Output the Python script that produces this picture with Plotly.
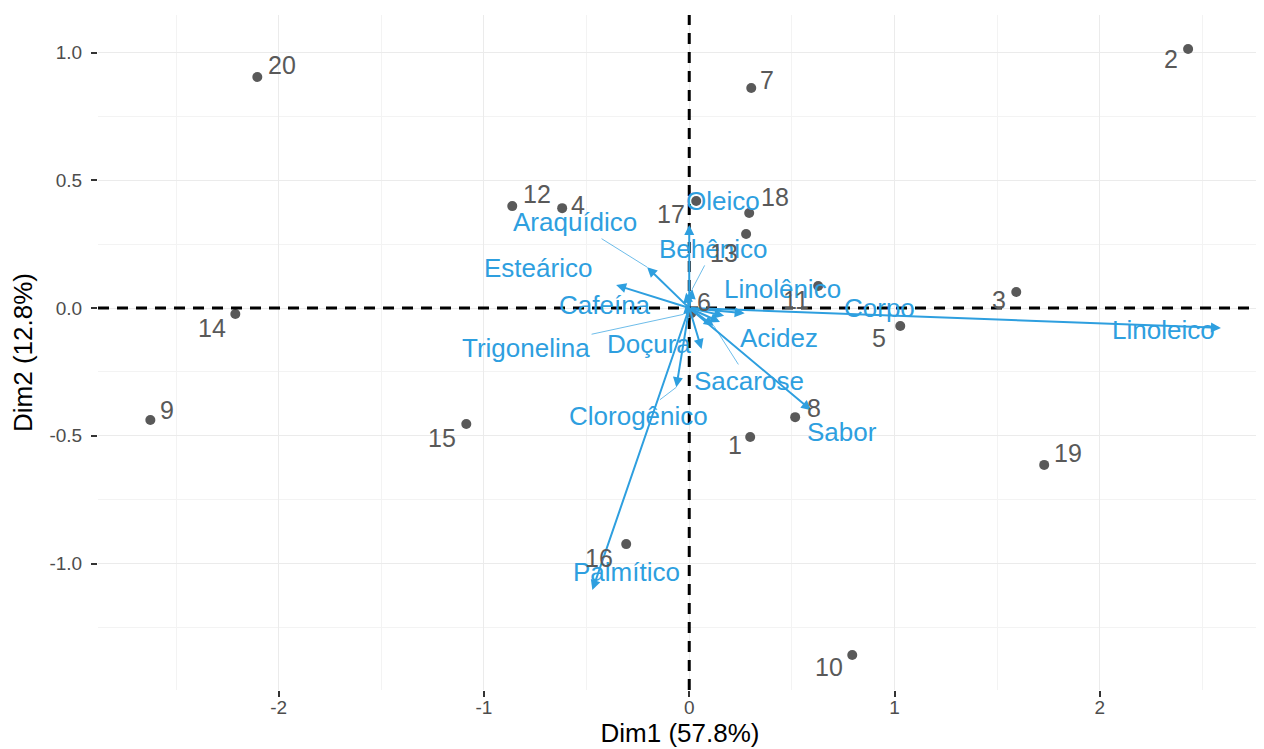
import plotly.graph_objects as go

# ---------------- data ----------------
ind_names = [str(i) for i in range(1, 21)]
ind_x = [0.297, 2.43, 1.593, -0.619, 1.028, 0.01, 0.302, 0.516, -2.625, 0.794,
         0.628, -0.862, 0.277, -2.211, -1.086, -0.307, 0.034, 0.292, 1.729, -2.104]
ind_y = [-0.505, 1.014, 0.063, 0.391, -0.07, -0.02, 0.861, -0.427, -0.438, -1.358,
         0.086, 0.399, 0.29, -0.023, -0.454, -0.924, 0.419, 0.372, -0.614, 0.904]

var_names = ["Linoleico", "Palmítico", "Sabor", "Oleico", "Esteárico", "Araquídico",
             "Cafeína", "Behênico", "Linolênico", "Corpo", "Acidez", "Doçura",
             "Trigonelina", "Sacarose", "Clorogênico"]
var_x = [2.59, -0.472, 0.594, 0.0, -0.356, -0.205, -0.015, 0.015, 0.17, 0.27, 0.15,
         0.06, -0.03, 0.12, -0.063]
var_y = [-0.078, -1.104, -0.40, 0.325, 0.09, 0.16, 0.06, 0.075, -0.03, -0.02, -0.055,
         -0.16, -0.025, -0.07, -0.31]

x_ticks = [-2, -1, 0, 1, 2]
y_ticks = [-1.0, -0.5, 0.0, 0.5, 1.0]
y_tick_labels = ["-1.0", "-0.5", "0.0", "0.5", "1.0"]

# ---------------- label placement (pixel offsets, screen-down y) ----------------
ind_offsets = [(-15, 8), (-17, 10), (-17, 8), (16, -3), (-21, 12), (13, -11), (16, -8),
               (19, -9), (17, -10), (-23, 12), (-22, 14), (25, -12), (-22, 19), (-23, 14),
               (-24, 14), (-27, 14), (-25, 13), (26, -16), (24, -12), (25, -12)]
var_offsets = [(-57, 2), (34, -18), (31, 22), (34, -24), (-78, -17), (-72, -45),
               (-81, 12), (21, -40), (58, -27), (135, -5), (59, 16), (-53, -5),
               (-157, 34), (35, 55), (-38, 29)]
var_connector = [False, False, False, False, False, True, False, True, False, False,
                 False, False, True, True, True]

IND_COL = "#595959"
VAR_COL = "#2E9FDF"
FONT = "Liberation Sans"

fig = go.Figure()
fig.add_trace(go.Scatter(x=ind_x, y=ind_y, mode="markers",
                         marker=dict(size=10, color=IND_COL), hoverinfo="text",
                         text=ind_names, showlegend=False))

annotations = []
# variable arrows from origin
for n, vx, vy in zip(var_names, var_x, var_y):
    annotations.append(dict(x=vx, y=vy, ax=0, ay=0, xref="x", yref="y",
                            axref="x", ayref="y", showarrow=True, arrowhead=2,
                            arrowsize=1.0, arrowwidth=2.0, arrowcolor=VAR_COL,
                            text="", standoff=0))
# variable labels
for n, vx, vy, (dx, dy), con in zip(var_names, var_x, var_y, var_offsets, var_connector):
    if con:
        annotations.append(dict(x=vx, y=vy, xref="x", yref="y", text=n,
                                showarrow=True, arrowhead=0, arrowwidth=0.7,
                                arrowcolor=VAR_COL, ax=dx, ay=dy,
                                font=dict(family=FONT, size=26, color=VAR_COL)))
    else:
        annotations.append(dict(x=vx, y=vy, xref="x", yref="y", text=n,
                                showarrow=False, xshift=dx, yshift=-dy,
                                font=dict(family=FONT, size=26, color=VAR_COL)))
# individual labels
for n, ix, iy, (dx, dy) in zip(ind_names, ind_x, ind_y, ind_offsets):
    annotations.append(dict(x=ix, y=iy, xref="x", yref="y", text=n,
                            showarrow=False, xshift=dx, yshift=-dy,
                            font=dict(family=FONT, size=25, color=IND_COL)))

shapes = [
    dict(type="line", xref="paper", yref="y", x0=0, x1=1, y0=0, y1=0,
         line=dict(color="black", width=3, dash="11px,8px"), layer="above"),
    dict(type="line", xref="x", yref="paper", x0=0, x1=0, y0=0, y1=1,
         line=dict(color="black", width=3, dash="11px,8px"), layer="above"),
]

# page body has an 8px default margin, so the figure is sized to fit the window
fig.update_layout(
    width=1256, height=741,
    margin=dict(l=90, r=2, t=7, b=59),
    paper_bgcolor="white", plot_bgcolor="white",
    font=dict(family=FONT, color="#4D4D4D"),
    annotations=annotations, shapes=shapes,
    showlegend=False,
)
fig.update_xaxes(range=[-2.88, 2.79], tickvals=x_ticks, ticktext=[str(t) for t in x_ticks],
                 showgrid=True, gridcolor="#EBEBEB", gridwidth=1,
                 minor=dict(dtick=0.5, tick0=0, showgrid=True, gridcolor="#F3F3F3", gridwidth=1),
                 zeroline=False, ticks="outside", ticklen=6, tickcolor="#333333", tickwidth=1.5,
                 ticklabelstandoff=-6,
                 tickfont=dict(size=19, color="#4D4D4D"), showline=False, automargin=False,
                 title=dict(text="Dim1 (57.8%)", font=dict(size=26, color="black"), standoff=6))
fig.update_yaxes(range=[-1.495, 1.147], tickvals=y_ticks, ticktext=y_tick_labels,
                 showgrid=True, gridcolor="#EBEBEB", gridwidth=1,
                 minor=dict(dtick=0.25, tick0=0, showgrid=True, gridcolor="#F3F3F3", gridwidth=1),
                 zeroline=False, ticks="outside", ticklen=6, tickcolor="#333333", tickwidth=1.5,
                 ticklabelstandoff=5,
                 tickfont=dict(size=19, color="#4D4D4D"), showline=False, automargin=False,
                 title=dict(text="Dim2 (12.8%)", font=dict(size=26, color="black"), standoff=12))

fig.write_html("out.html")
